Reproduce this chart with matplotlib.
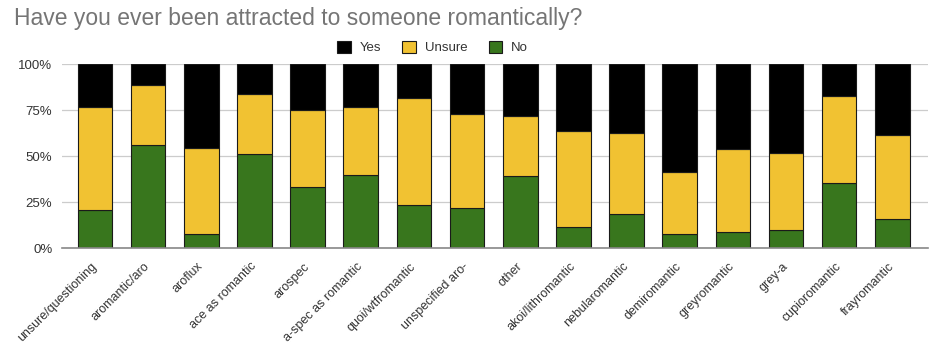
import matplotlib.pyplot as plt
import numpy as np
from matplotlib.ticker import FixedLocator

plt.rcParams["font.family"] = ["Liberation Sans", "DejaVu Sans"]

categories = [
    "unsure/questioning", "aromantic/aro", "aroflux", "ace as romantic",
    "arospec", "a-spec as romantic", "quoi/wtfromantic", "unspecified aro-",
    "other", "akoi/lithromantic", "nebularomantic", "demiromantic",
    "greyromantic", "grey-a", "cupioromantic", "frayromantic",
]
no_pct = [20.5, 56.0, 7.8, 51.1, 33.1, 39.6, 23.3, 21.6,
          39.1, 11.6, 18.7, 7.8, 8.7, 10.0, 35.5, 16.0]
unsure_pct = [56.4, 32.4, 46.4, 32.5, 42.0, 37.1, 58.5, 51.1,
              32.7, 52.0, 44.0, 33.3, 44.9, 41.8, 47.2, 45.6]
yes_pct = [100 - n - u for n, u in zip(no_pct, unsure_pct)]

c_yes = "#000000"
c_unsure = "#f1c232"
c_no = "#38761d"


def generate_figure():
    fig = plt.figure(figsize=(9.51, 3.6), dpi=100)
    ax = fig.add_axes([0.0652, 0.311, 0.9106, 0.511])

    x = np.arange(len(categories))
    w = 0.65
    edge = dict(edgecolor="#1a1a1a", linewidth=0.8, zorder=3)
    ax.bar(x, no_pct, w, color=c_no, label="No", **edge)
    ax.bar(x, unsure_pct, w, bottom=no_pct, color=c_unsure, label="Unsure", **edge)
    bottom2 = [n + u for n, u in zip(no_pct, unsure_pct)]
    ax.bar(x, yes_pct, w, bottom=bottom2, color=c_yes, label="Yes", **edge)

    ax.set_xlim(-0.62, len(categories) - 0.33)
    ax.set_ylim(0, 100)
    ax.yaxis.set_major_locator(FixedLocator([0, 25, 50, 75, 100]))
    ax.set_yticklabels(["0%", "25%", "50%", "75%", "100%"], fontsize=9.5, color="#333333")
    ax.grid(axis="y", color="#cccccc", linewidth=0.9, zorder=0)
    ax.set_axisbelow(True)
    for s in ["top", "right", "left"]:
        ax.spines[s].set_visible(False)
    ax.spines["bottom"].set_color("#888888")
    ax.spines["bottom"].set_linewidth(1.2)
    ax.spines["bottom"].set_zorder(4)
    ax.tick_params(axis="y", length=0, pad=7)
    ax.tick_params(axis="x", length=0, pad=12)

    ax.set_xticks(x)
    ax.set_xticklabels(categories, rotation=45, ha="right", va="center",
                       rotation_mode="anchor", fontsize=9, color="#333333")

    fig.text(0.015, 0.948, "Have you ever been attracted to someone romantically?",
             fontsize=16.5, color="#757575", va="center")

    handles, labels = ax.get_legend_handles_labels()
    leg = fig.legend(handles[::-1], labels[::-1], loc="center", ncol=3,
                     bbox_to_anchor=(0.455, 0.868), frameon=False, fontsize=9.5,
                     handlelength=1.0, handleheight=1.0, columnspacing=1.6,
                     handletextpad=0.7)
    for t in leg.get_texts():
        t.set_color("#333333")

    return fig


def main():
    fig = generate_figure()
    fig.savefig("out.png", dpi=100)


if __name__ == "__main__":
    main()
